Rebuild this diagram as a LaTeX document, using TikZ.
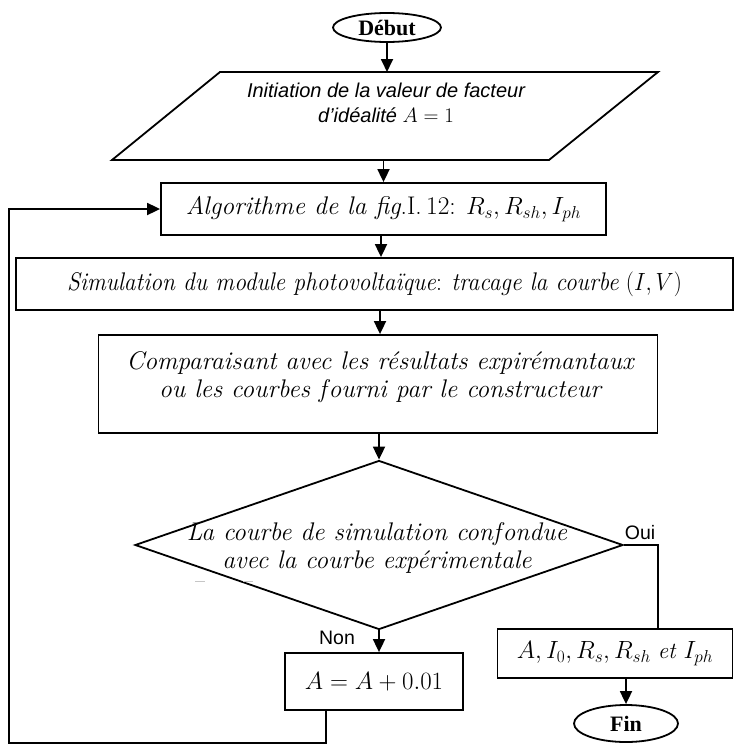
\documentclass[tikz,border=0pt]{standalone}
\usepackage{fontspec}
\usetikzlibrary{arrows.meta,shapes.geometric,calc}
\newfontfamily\arialf{Liberation Sans}
\newfontfamily\timesf{Liberation Serif}
\tikzset{
  ln/.style={line width=1.8pt},
  box/.style={draw, ln, rectangle, inner sep=0pt, align=center},
  term/.style={draw, ln, ellipse, inner sep=0pt, font=\timesf\bfseries\fontsize{22}{26}\selectfont},
  arr/.style={ln, -{Triangle[length=13pt,width=12pt]}},
  big/.style={font=\fontsize{25.5}{28}\selectfont},
  mtxt/.style={align=center, inner sep=0pt, font=\itshape\fontsize{25.5}{28}\selectfont},
  lbl/.style={inner sep=0pt, font=\arialf\fontsize{19.5}{22}\selectfont},
}
\begin{document}
\begin{tikzpicture}[x=1pt,y=-1pt]
\useasboundingbox (0,0) rectangle (734,744);
% start
\node[term, minimum width=108pt, minimum height=29pt] (deb) at (387,27.5) {Début};
% parallelogram
\coordinate (pbl) at (112,160);
\coordinate (ptl) at (220,72);
\coordinate (ptr) at (658,72);
\coordinate (pbr) at (549,160);
\draw[ln, line join=miter] (pbl) -- (ptl) -- (ptr) -- (pbr) -- cycle;
\node[align=center, inner sep=0pt, font=\arialf\itshape\fontsize{20}{25}\selectfont] (parat) at (386,103)
  {Initiation de la valeur de facteur\\d’idéalité {\upshape\fontsize{22}{25}\selectfont$A=1$}};
% boxes
\node[box, big, minimum width=445pt, minimum height=52pt] (algo) at (383.5,209)
  {\textit{Algorithme de la fig}.I.\,12: $R_s, R_{sh}, I_{ph}$};
\node[box, big, minimum width=717pt, minimum height=52pt] (sim) at (374.5,284)
  {\scalebox{0.92}[1]{\textit{Simulation du module photovoltaïque}: \textit{tracage la courbe} $(I,V)$}};
\node[box, minimum width=559pt, minimum height=98pt] (comp) at (378,384) {};
\node[mtxt] (compt) at (380,377)
  {Comparaisant avec les résultats expirémantaux\\ou les courbes f\hspace{2pt}ourni par le constructeur};
% decision
\node[draw, ln, diamond, inner sep=0pt, minimum width=488pt, minimum height=169pt] (dia) at (379,545) {};
\node[mtxt] (diat) at (377,548)
  {La courbe de simulation conf\hspace{2pt}ondue\\avec la courbe expérimentale};
\draw[gray!45, line width=1pt] (195,581) -- (205,581) (243,581) -- (253,581);
% outputs
\node[box, minimum width=235pt, minimum height=49pt, font=\fontsize{23}{26}\selectfont] (yes) at (615,653.5)
  {$A, I_0, R_s, R_{sh}$ \textit{et} $I_{ph}$};
\node[box, big, minimum width=178pt, minimum height=57pt] (abox) at (374,681.5)
  {$A = A + 0.01$};
\node[term, minimum width=104pt, minimum height=37pt] (fin) at (626,723.5) {Fin};
% labels
\node[lbl] (oui) at (640,533) {Oui};
\node[lbl] (non) at (337,638) {Non};
% connectors
\draw[arr] (deb.south) -- (deb.south |- ptl);
\draw[arr] (algo.north |- pbl) -- (algo.north);
\draw[arr] (algo.south -| 381,0) -- (sim.north -| 381,0);
\draw[arr] (sim.south -| 380,0) -- (comp.north -| 380,0);
\draw[arr] (comp.south -| dia.north) -- (dia.north);
\draw[arr] (dia.south) -- (dia.south |- abox.north);
\coordinate (yesin) at ($(yes.north)+(43,0)$);
\draw[ln] (dia.east) -| (yesin);
\draw[arr] (fin.north |- yes.south) -- (fin.north);
\coordinate (loopstart) at ($(abox.south)+(-48,0)$);
\draw[arr] (loopstart) -- ++(0,32) -- ++(-317,0) |- (algo.west);
\end{tikzpicture}
\end{document}
